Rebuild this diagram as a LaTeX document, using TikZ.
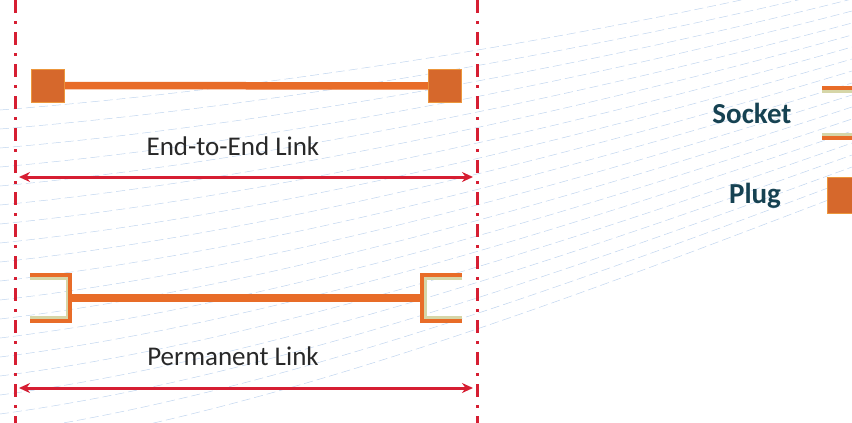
\documentclass[tikz,border=0pt]{standalone}
\usepackage{fontspec}
\setmainfont{Carlito}
\usepackage{tikz}
\usetikzlibrary{arrows.meta}
\usetikzlibrary{positioning}
\definecolor{linkorange}{RGB}{232,108,40}
\definecolor{plugfill}{RGB}{214,104,44}
\definecolor{plugedge}{RGB}{236,150,60}
\definecolor{liningbeige}{RGB}{214,214,168}
\definecolor{linkred}{RGB}{214,30,50}
\definecolor{labelgray}{RGB}{40,40,40}
\definecolor{legendteal}{RGB}{22,66,82}
\definecolor{bgblue}{RGB}{150,185,228}
\tikzstyle{plugnode}=[draw=plugedge, fill=plugfill, line width=0.6pt, shape=rectangle, minimum size=33pt, inner sep=0pt]
\tikzstyle{cable}=[linkorange, line width=7.5pt]
\tikzstyle{socketshell}=[linkorange, line width=4pt]
\tikzstyle{socketlining}=[liningbeige, line width=3pt]
\tikzstyle{boundary}=[linkred, line width=3pt, dash pattern=on 13pt off 8pt on 3pt off 8pt]
\tikzstyle{span}=[{Stealth[length=11pt, width=10pt]}-{Stealth[length=11pt, width=10pt]}, linkred, line width=3pt]
\tikzstyle{linklabel}=[text=labelgray, font=\fontsize{27}{32}\selectfont, inner sep=0pt]
\tikzstyle{legendlabel}=[text=legendteal, font=\bfseries\fontsize{29}{34}\selectfont, inner sep=0pt]
\tikzstyle{bgline}=[bgblue, line width=0.5pt, dash pattern=on 9pt off 4pt, opacity=0.6]
\begin{document}
\begin{tikzpicture}[x=1pt, y=-1pt]
\useasboundingbox (0,0) rectangle (852,423);
\clip (0,0) rectangle (852,423);

% faint background texture
\foreach \i in {0,...,18}
  \draw[bgline] (0,110+19*\i) .. controls (280,88+18*\i) and (600,35+14*\i) .. (852,-25+12*\i);

% boundaries of the links
\coordinate (bl0) at (15,0);
\coordinate (bl1) at (15,423);
\coordinate (br0) at (477,0);
\coordinate (br1) at (477,423);
\draw[boundary] (bl0) -- (bl1);
\draw[boundary] (br0) -- (br1);

% end-to-end link
\node [plugnode] (plugA) at (48,85.5) {};
\node [plugnode] (plugB) at (445,86) {};
\draw[cable] (plugA) -- (plugB);
\node [linklabel] (e2elabel) at (233,146) {End-to-End Link};
\coordinate (e2eL) at (19,177);
\coordinate (e2eR) at (473,177);
\draw[span] (e2eL) -- (e2eR);

% permanent link
\coordinate (sockA) at (70,298);
\coordinate (sockB) at (422,298);
\draw[cable] (sockA) -- (sockB);
\draw[socketlining] (30,278.5) -- (67,278.5) -- (67,317.5) -- (30,317.5);
\draw[socketshell] (30,275) -- (70,275) -- (70,321) -- (30,321);
\draw[socketlining] (462,278.5) -- (425,278.5) -- (425,317.5) -- (462,317.5);
\draw[socketshell] (462,275) -- (422,275) -- (422,321) -- (462,321);
\node [linklabel] (permlabel) at (233,356.5) {Permanent Link};
\coordinate (permL) at (19,388);
\coordinate (permR) at (473,388);
\draw[span] (permL) -- (permR);

% legend
\node [legendlabel] (socketlabel) at (752,113) {Socket};
\draw[socketlining] (822,91.5) -- (866,91.5) -- (866,134.5) -- (822,134.5);
\draw[socketshell] (822,88) -- (869,88) -- (869,138) -- (822,138);
\node [legendlabel] (pluglabel) at (755,196) {Plug};
\node [plugnode, minimum size=36pt] (plugkey) at (845,195) {};
\end{tikzpicture}
\end{document}
